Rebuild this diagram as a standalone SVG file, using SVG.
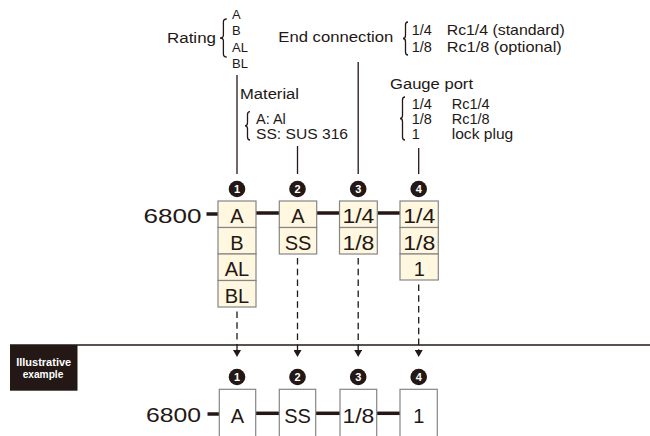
<svg xmlns="http://www.w3.org/2000/svg" width="650" height="436" viewBox="0 0 650 436">
<defs>
<style>
text{font-family:"Liberation Sans",Arial,sans-serif;fill:#231815}
.h{font-size:15.5px}
.s{font-size:14.5px}
.r{font-size:13px}
.b{font-size:20px;text-anchor:middle}
.n{font-size:11px;font-weight:bold;fill:#fff;text-anchor:middle}
.big{font-size:20px;text-anchor:end}
.cell{fill:#fff7e0;stroke:#858585;stroke-width:1.2}
.wcell{fill:#fff;stroke:#858585;stroke-width:1.2}
.thin{stroke:#231815;stroke-width:1.3;fill:none}
.thick{stroke:#231815;stroke-width:3.5;fill:none}
.dash{stroke:#231815;stroke-width:1.3;fill:none;stroke-dasharray:6.5 4.3}
.brace{stroke:#231815;stroke-width:1.3;fill:none}
.dot{fill:#231815}
.tag{font-size:10.5px;font-weight:bold;text-anchor:middle;fill:#fff}
</style>
<marker id="ah" viewBox="0 0 7 8" refX="1" refY="4" markerWidth="7" markerHeight="8" markerUnits="userSpaceOnUse" orient="auto"><path d="M0,0 L7,4 L0,8 Z" fill="#231815"/></marker>
</defs>

<g id="labels">
<text class="h" x="167" y="42.8" textLength="49" lengthAdjust="spacingAndGlyphs">Rating</text>
<path class="brace" d="M226.7,19 Q223.4,19 223.4,22 L223.4,35 Q223.4,38 220,38 Q223.4,38 223.4,41 L223.4,54 Q223.4,57 226.7,57"/>
<text class="r" x="232" y="19">A</text>
<text class="r" x="232" y="35.2">B</text>
<text class="r" x="232" y="51.8">AL</text>
<text class="r" x="232" y="67.8">BL</text>

<text class="h" x="278.3" y="42" textLength="115" lengthAdjust="spacingAndGlyphs">End connection</text>
<path class="brace" d="M408,22 Q405.5,22 405.5,25 L405.5,35.5 Q405.5,38.5 403,38.5 Q405.5,38.5 405.5,41.5 L405.5,52 Q405.5,55 408,55"/>
<text class="s" x="411.7" y="35.2"><tspan x="411.7">1/4</tspan> <tspan x="446.7" textLength="118" lengthAdjust="spacingAndGlyphs">Rc1/4 (standard)</tspan></text>
<text class="s" x="411.7" y="51.8"><tspan x="411.7">1/8</tspan> <tspan x="446.7" textLength="115" lengthAdjust="spacingAndGlyphs">Rc1/8 (optional)</tspan></text>

<text class="h" x="240" y="98.5" textLength="59" lengthAdjust="spacingAndGlyphs">Material</text>
<path class="brace" d="M250,111.7 Q247.5,111.7 247.5,114.7 L247.5,122.8 Q247.5,125.8 245,125.8 Q247.5,125.8 247.5,128.8 L247.5,137 Q247.5,140 250,140"/>
<text class="s" x="256" y="123.5">A: Al</text>
<text class="s" x="256" y="138.5" textLength="92" lengthAdjust="spacingAndGlyphs">SS: SUS 316</text>

<text class="h" x="390" y="88.5" textLength="83" lengthAdjust="spacingAndGlyphs">Gauge port</text>
<path class="brace" d="M405,97 Q402.5,97 402.5,100 L402.5,115.5 Q402.5,118.5 400,118.5 Q402.5,118.5 402.5,121.5 L402.5,137 Q402.5,140 405,140"/>
<text class="s" y="108.5"><tspan x="411.7">1/4</tspan> <tspan x="451.7">Rc1/4</tspan></text>
<text class="s" y="123.5"><tspan x="411.7">1/8</tspan> <tspan x="451.7">Rc1/8</tspan></text>
<text class="s" y="138.5"><tspan x="411.7">1</tspan> <tspan x="451.7" textLength="61.6" lengthAdjust="spacingAndGlyphs">lock plug</tspan></text>
</g>

<g id="connectors">
<line class="thin" x1="237" y1="75" x2="237" y2="174"/>
<line class="thin" x1="297.5" y1="146" x2="297.5" y2="174"/>
<line class="thin" x1="358.2" y1="62" x2="358.2" y2="174"/>
<line class="thin" x1="418.7" y1="148" x2="418.7" y2="174"/>
<line class="thick" x1="206.5" y1="214" x2="218" y2="214"/>
<line class="thick" x1="256" y1="213" x2="279.5" y2="213"/>
<line class="thick" x1="316.7" y1="213" x2="339.5" y2="213"/>
<line class="thick" x1="377.3" y1="213" x2="400" y2="213"/>
<line class="dash" x1="237" y1="311.5" x2="237" y2="351" marker-end="url(#ah)"/>
<line class="dash" x1="297.5" y1="258" x2="297.5" y2="351" marker-end="url(#ah)"/>
<line class="dash" x1="358.2" y1="258" x2="358.2" y2="351" marker-end="url(#ah)"/>
<line class="dash" x1="418.7" y1="284.5" x2="418.7" y2="351" marker-end="url(#ah)"/>
<line class="thick" x1="207.5" y1="414" x2="219" y2="414"/>
<line class="thick" x1="256" y1="413.3" x2="279.5" y2="413.3"/>
<line class="thick" x1="316" y1="413.3" x2="340" y2="413.3"/>
<line class="thick" x1="376.7" y1="413.3" x2="400" y2="413.3"/>
<line x1="10" y1="345" x2="650" y2="345" stroke="#231815" stroke-width="1.3"/>
</g>

<g id="model-top">
<text class="big" x="201.5" y="223.3" textLength="58" lengthAdjust="spacingAndGlyphs">6800</text>
</g>

<g id="node-rating">
<circle class="dot" cx="237" cy="189" r="8.3"/>
<text class="n" x="237" y="193">1</text>
<rect class="cell" x="218" y="201" width="38" height="26.5"/>
<rect class="cell" x="218" y="227.5" width="38" height="26.5"/>
<rect class="cell" x="218" y="254" width="38" height="26.5"/>
<rect class="cell" x="218" y="280.5" width="38" height="26.5"/>
<text class="b" x="237" y="223">A</text>
<text class="b" x="237" y="249.5">B</text>
<text class="b" x="237" y="276">AL</text>
<text class="b" x="237" y="302.5">BL</text>
</g>

<g id="node-material">
<circle class="dot" cx="297.5" cy="189" r="8.3"/>
<text class="n" x="297.5" y="193">2</text>
<rect class="cell" x="279.3" y="201" width="37.4" height="26.5"/>
<rect class="cell" x="279.3" y="227.5" width="37.4" height="26.5"/>
<text class="b" x="298" y="223">A</text>
<text class="b" x="298" y="249.5">SS</text>
</g>

<g id="node-end">
<circle class="dot" cx="358.2" cy="189" r="8.3"/>
<text class="n" x="358.2" y="193">3</text>
<rect class="cell" x="339.5" y="201" width="37.8" height="26.5"/>
<rect class="cell" x="339.5" y="227.5" width="37.8" height="26.5"/>
<text class="b" x="358.4" y="223" textLength="32" lengthAdjust="spacingAndGlyphs">1/4</text>
<text class="b" x="358.4" y="249.5" textLength="32" lengthAdjust="spacingAndGlyphs">1/8</text>
</g>

<g id="node-gauge">
<circle class="dot" cx="418.7" cy="189" r="8.3"/>
<text class="n" x="418.7" y="193">4</text>
<rect class="cell" x="400" y="201" width="38.3" height="26.5"/>
<rect class="cell" x="400" y="227.5" width="38.3" height="26.5"/>
<rect class="cell" x="400" y="254" width="38.3" height="26"/>
<text class="b" x="419.2" y="223" textLength="32" lengthAdjust="spacingAndGlyphs">1/4</text>
<text class="b" x="419.2" y="249.5" textLength="32" lengthAdjust="spacingAndGlyphs">1/8</text>
<text class="b" x="419.2" y="276">1</text>
</g>

<g id="example-tag">
<rect x="10" y="345" width="67.5" height="45.7" fill="#231815"/>
<text class="tag" x="43.7" y="365.5" textLength="55" lengthAdjust="spacingAndGlyphs">Illustrative</text>
<text class="tag" x="43" y="378" textLength="40.6" lengthAdjust="spacingAndGlyphs">example</text>
</g>

<g id="example-model">
<text class="big" x="201" y="421.7" textLength="55" lengthAdjust="spacingAndGlyphs">6800</text>
</g>

<g id="example-1">
<circle class="dot" cx="237" cy="377" r="8.3"/>
<text class="n" x="237" y="381">1</text>
<rect class="wcell" x="219.3" y="389.3" width="36.4" height="52"/>
<text class="b" x="237.5" y="423.3">A</text>
</g>
<g id="example-2">
<circle class="dot" cx="297.5" cy="377" r="8.3"/>
<text class="n" x="297.5" y="381">2</text>
<rect class="wcell" x="279.3" y="389.3" width="36.4" height="52"/>
<text class="b" x="297.5" y="423.3">SS</text>
</g>
<g id="example-3">
<circle class="dot" cx="358.2" cy="377" r="8.3"/>
<text class="n" x="358.2" y="381">3</text>
<rect class="wcell" x="340" y="389.3" width="36.7" height="52"/>
<text class="b" x="358.4" y="423.3" textLength="32" lengthAdjust="spacingAndGlyphs">1/8</text>
</g>
<g id="example-4">
<circle class="dot" cx="418.7" cy="377" r="8.3"/>
<text class="n" x="418.7" y="381">4</text>
<rect class="wcell" x="400" y="389.3" width="37.3" height="52"/>
<text class="b" x="418.7" y="423.3">1</text>
</g>
</svg>
